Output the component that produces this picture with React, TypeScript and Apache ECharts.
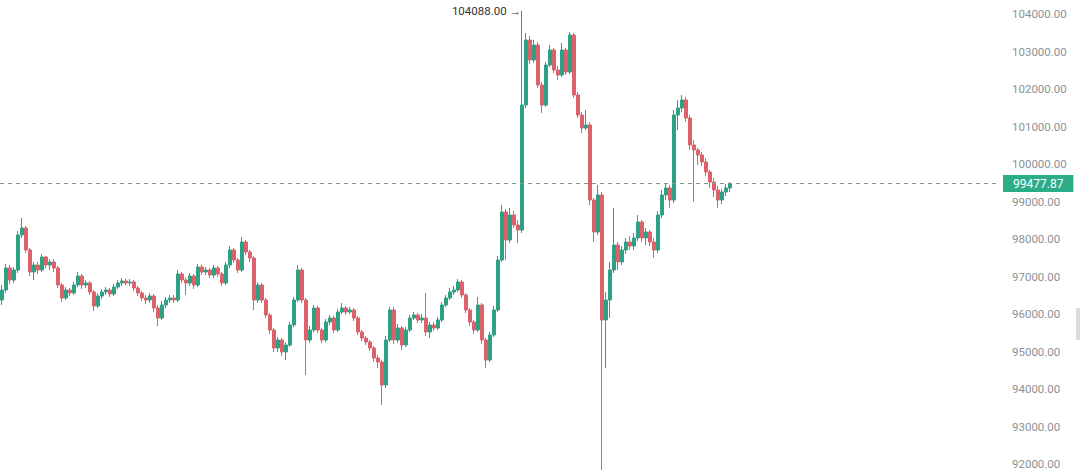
import React, { useEffect, useRef } from "react";
import * as echarts from "echarts";

// Price data (OHLC). Open of each candle equals the previous close.
const firstOpen = 96373;
const closes = [
  96640, 97227, 96907, 97173, 98107, 98293, 97707, 97120, 97307, 97173,
  97520, 97307, 97387, 97227, 96773, 96427, 96640, 96560, 96773, 97013,
  96773, 96827, 96587, 96213, 96480, 96587, 96640, 96533, 96720, 96827,
  96880, 96827, 96853, 96693, 96560, 96427, 96373, 96480, 96160, 95893,
  96240, 96373, 96427, 96373, 97067, 96907, 96827, 97013, 96773, 97253,
  97120, 97173, 97040, 97227, 97067, 96827, 97307, 97707, 97440, 97173,
  97920, 97653, 97493, 96373, 96773, 96373, 95973, 95573, 95093, 95307,
  94987, 95173, 95707, 96373, 97173, 96373, 95307, 95573, 96160, 95573,
  95307, 95787, 95893, 95573, 96053, 96160, 96053, 96107, 95893, 95520,
  95360, 95253, 95093, 94827, 94720, 94107, 95307, 96107, 95307, 95627,
  95173, 95573, 95893, 95973, 95840, 95893, 95520, 95707, 95627, 95840,
  96240, 96427, 96587, 96640, 96853, 96507, 96107, 95787, 95573, 96240,
  95307, 94773, 95440, 96107, 97440, 98720, 97973, 98640, 98373, 98240,
  101573, 103307, 102773, 103173, 102107, 101573, 102640, 103040, 102507, 102373,
  103040, 102453, 103440, 101840, 101307, 100960, 101040, 99040, 98187, 99173,
  95840, 96373, 97173, 97840, 97387, 97707, 97920, 97813, 98027, 98453,
  98027, 98187, 97920, 97707, 98640, 99173, 99360, 99040, 101307, 101493,
  101707, 101227, 100507, 100373, 100240, 100053, 99787, 99520, 99307, 99040,
  99253, 99360, 99477.87,
];
const highs = [
  96773, 97333, 97307, 97253, 98213, 98560, 98347, 97760, 97387, 97387,
  97600, 97547, 97467, 97467, 97280, 96827, 96720, 96693, 96853, 97120,
  97067, 96907, 96880, 96640, 96560, 96667, 96720, 96693, 96800, 96907,
  96960, 96933, 96933, 96907, 96747, 96613, 96507, 96560, 96533, 96240,
  96347, 96453, 96507, 96507, 97173, 97120, 96987, 97093, 97067, 97333,
  97307, 97253, 97227, 97307, 97280, 97120, 97387, 97813, 97760, 97493,
  98053, 97973, 97707, 97547, 96853, 96827, 96427, 96027, 95627, 95387,
  95360, 95253, 95787, 96453, 97307, 97227, 96427, 95680, 96240, 96213,
  95627, 95867, 95973, 95947, 96133, 96293, 96213, 96187, 96160, 95947,
  95573, 95413, 95307, 95147, 94907, 94773, 95413, 96187, 96187, 95733,
  95680, 95653, 95973, 96053, 96027, 96000, 96560, 95787, 95787, 95920,
  96320, 96507, 96693, 96747, 96933, 96907, 96560, 96160, 95840, 96453,
  96293, 95360, 95520, 96213, 97547, 98907, 98800, 98827, 98747, 98507,
  104088, 103493, 103413, 103307, 103253, 102187, 102720, 103173, 103093, 102613,
  103227, 103093, 103520, 103493, 101920, 101387, 101440, 101120, 99093, 99440,
  99253, 96587, 97387, 98827, 97920, 97813, 98027, 98080, 98160, 98640,
  98507, 98293, 98240, 98027, 98747, 99307, 99493, 99440, 101440, 101707,
  101840, 101787, 101307, 100640, 100427, 100320, 100160, 99840, 99627, 99413,
  99333, 99467, 99520,
];
const lows = [
  96240, 96560, 96800, 96827, 97093, 98027, 97627, 97013, 96907, 97067,
  97120, 97227, 97173, 97120, 96693, 96320, 96373, 96480, 96507, 96720,
  96667, 96693, 96507, 96080, 96160, 96400, 96507, 96453, 96480, 96667,
  96747, 96773, 96747, 96613, 96480, 96347, 96267, 96293, 96053, 95680,
  95840, 96160, 96293, 96293, 96320, 96827, 96507, 96747, 96667, 96720,
  97040, 97040, 96960, 96960, 96987, 96747, 96773, 97227, 97360, 97093,
  97120, 97573, 97387, 96107, 96293, 96293, 95893, 95467, 94987, 94987,
  94880, 94773, 95120, 95653, 96320, 96293, 94373, 95227, 95520, 95493,
  95227, 95253, 95707, 95493, 95520, 96000, 95973, 96000, 95813, 95440,
  95280, 95173, 95013, 94720, 94560, 93573, 94027, 95253, 95200, 95227,
  95040, 95120, 95520, 95840, 95760, 95760, 95413, 95360, 95547, 95573,
  95787, 96187, 96373, 96507, 96587, 96427, 96027, 95680, 95467, 95520,
  95200, 94560, 94720, 95387, 96053, 97387, 97440, 97893, 98293, 97893,
  98160, 101493, 102667, 102693, 102027, 101360, 101520, 102587, 102427, 102240,
  102320, 102373, 102400, 101760, 101227, 100827, 100907, 98907, 97920, 98107,
  91800, 94560, 95893, 97093, 97173, 97307, 97600, 97707, 97707, 97947,
  97920, 97840, 97813, 97493, 97627, 98560, 99040, 98827, 98960, 100907,
  101387, 101120, 100373, 98987, 99973, 99947, 99680, 99360, 99120, 98827,
  98933, 99147, 99253,
];
// Total time slots on the x axis (the right part is still empty)
const slotCount = 250;
const yMin = 92000;
const yMax = 104100;
const yStep = 1000;
const lastPrice = 99477.87;

export default function App() {
  const ref = useRef<HTMLDivElement>(null);
  useEffect(() => {
    const chart = echarts.init(ref.current!, null, { renderer: "svg" });
    const categories = Array.from({ length: slotCount }, (_, i) => String(i + 1));
    const ohlc = closes.map((c, i) => [i === 0 ? firstOpen : closes[i - 1], c, lows[i], highs[i]]);
    chart.setOption({
      animation: false,
      backgroundColor: "#ffffff",
      grid: { left: 0, right: 80, top: 10.25, bottom: 6 },
      xAxis: { type: "category", data: categories, show: false },
      yAxis: {
        type: "value",
        position: "right",
        min: yMin,
        max: yMax,
        interval: yStep,
        splitLine: { show: false },
        axisLine: { show: false },
        axisTick: { show: false },
        axisLabel: {
          formatter: (v: number) => v.toFixed(2),
          color: "#8c9196",
          fontSize: 11.5,
          margin: 12,
          fontFamily: "Roboto",
          showMaxLabel: false,
        },
      },
      graphic: [
        { type: "rect", right: 0, top: 308, shape: { width: 4, height: 32 }, style: { fill: "#dcdcdc" } },
      ],
      series: [
        {
          type: "candlestick",
          data: ohlc,
          clip: false,
          barWidth: 2.6,
          itemStyle: {
            color: "#2ea185",
            color0: "#dc616b",
            borderColor: "#2ea185",
            borderColor0: "#dc616b",
            borderWidth: 1,
          },
          markLine: {
            silent: true,
            symbol: ["none", "none"],
            data: [{ yAxis: lastPrice }],
            lineStyle: { type: [4, 4], color: "#7c9a94", width: 1 },
            label: {
              position: "end",
              formatter: lastPrice.toFixed(2),
              backgroundColor: "#2bae87",
              color: "#ffffff",
              padding: [3, 10, 2, 10],
              fontSize: 12,
              fontFamily: "Roboto",
              distance: 3,
            },
          },
          markPoint: {
            silent: true,
            symbol: "circle",
            symbolSize: 2,
            itemStyle: { color: "rgba(0,0,0,0)" },
            data: [{ type: "max", valueDim: "highest" }],
            label: {
              show: true,
              position: "left",
              distance: 0,
              formatter: (p: any) => `${Number(p.value).toFixed(2)} →`,
              color: "#333333",
              fontSize: 11.5,
              fontFamily: "Roboto",
            },
          },
        },
      ],
    });
    return () => chart.dispose();
  }, []);
  return (
    <div
      ref={ref}
      style={{ position: "absolute", left: 0, top: 0, width: 1080, height: 470 }}
    />
  );
}
